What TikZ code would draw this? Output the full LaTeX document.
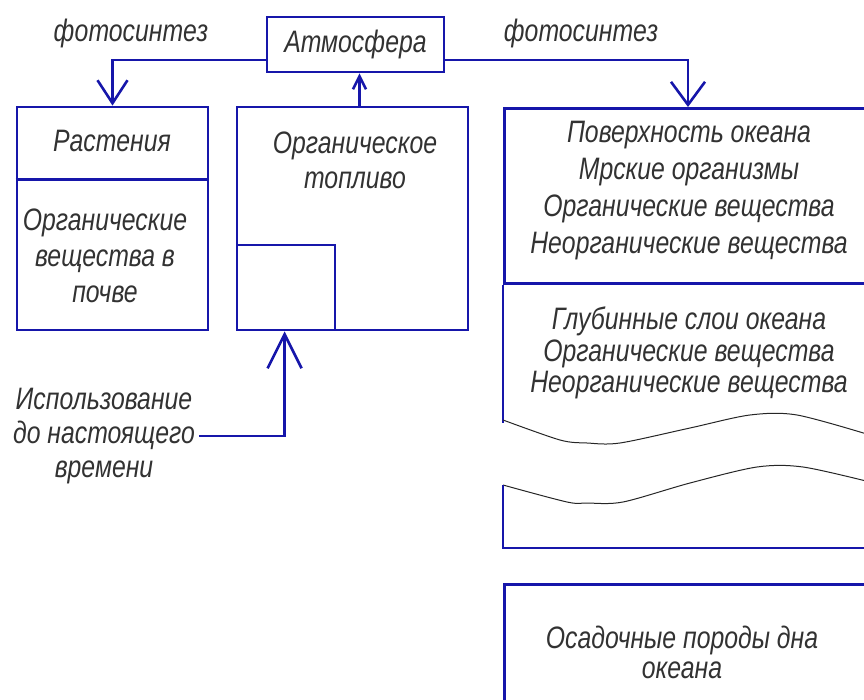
\documentclass[tikz,border=0pt]{standalone}
\usepackage{fontspec}
\setmainfont{Liberation Sans}[FakeStretch=0.8]
\usetikzlibrary{arrows.meta, positioning, calc}
\definecolor{inkblue}{RGB}{22,22,170}
\definecolor{inkgray}{RGB}{50,50,50}
\newcommand{\capfont}[1]{\fontsize{31}{#1}\selectfont\itshape}
\tikzset{
  block/.style={draw=inkblue, line width=2.8pt, inner sep=0pt},
  caption/.style={font=\capfont{35}, text=inkgray, align=center, inner sep=4pt},
  rule/.style={draw=inkblue, line width=2.8pt},
  flow/.style={rule, -{Straight Barb[length=23pt, width=30pt, line width=2.6pt]}},
  wave/.style={line width=1pt, black!85}
}

\begin{document}
\begin{tikzpicture}[x=1pt, y=-1pt]
        \useasboundingbox (0,0) rectangle (864,700);
        \clip (0,0) rectangle (864,700);

        % Atmosphere
        \node[block, caption, minimum width=177, minimum height=55] (atm) at (355.5,44.5) {Атмосфера};

        % Land
        \node[block, minimum width=191, minimum height=223] (plants) at (112.5,218.5) {};
        \draw[rule] ($(plants.north west)+(0,74)$) -- ($(plants.north east)+(0,74)$);
        \node[caption] at (112,141) {Растения};
        \node[caption, font=\capfont{36}] at (105,256) {Органические\\вещества в\\почве};

        \node[block, minimum width=231, minimum height=223] (fuel) at (352.5,218.5) {};
        \node[block, minimum width=98, minimum height=85, anchor=south west] (reserve) at (fuel.south west) {};
        \node[caption] at (355,160) {Органическое\\топливо};

        % Ocean
        \node[block, minimum width=400, minimum height=175, anchor=north west] (surface) at (503,107) {};
        \node[caption, font=\capfont{37}] at (689,191) {Поверхность океана\\Мрские организмы\\Органические вещества\\Неорганические вещества};
        \draw[rule] (surface.south west) -- ++(0,138);
        \node[caption, font=\capfont{31.5}] at (689,353) {Глубинные слои океана\\Органические вещества\\Неорганические вещества};
        \draw[wave] plot[smooth, tension=0.5] coordinates {(503,420) (560,440) (587,443) (620,443) (690,428) (750,415) (797,415) (870,435)};
        \draw[wave] plot[smooth, tension=0.5] coordinates {(503,485) (567,502) (587,503) (623,502) (690,483) (757,467) (803,467) (870,482)};
        \draw[rule] (503,485) -- (503,548) -- (880,548);

        \node[block, minimum width=400, minimum height=150, anchor=north west] (sediment) at (503,583) {};
        \node[caption, font=\capfont{30}] at (682,652) {Осадочные породы дна\\океана};

        % Labels
        \node[caption] at (131,33) {фотосинтез};
        \node[caption] at (581,33) {фотосинтез};
        \node[caption, font=\capfont{34}] (usage) at (104,436) {Использование\\до настоящего\\времени};

        % Links
        \coordinate (sink) at ($(surface.north west)+(185,0)$);
        \coordinate (vent) at ($(fuel.north)+(7,0)$);
        \coordinate (inlet) at ($(fuel.south west)+(49,0)$);
        \draw[flow] ($(atm.west)+(0,15.5)$) -| (plants.north);
        \draw[flow, -{Straight Barb[length=23pt, width=34pt, line width=2.6pt]}] ($(atm.east)+(0,15.5)$) -| (sink);
        \draw[flow, -{Straight Barb[length=13pt, width=13pt, line width=2.6pt]}] (vent) -- (vent |- atm.south);
        \draw[flow, -{Straight Barb[length=34pt, width=34pt, line width=2.6pt]}] (usage.east) -| (inlet);
    \end{tikzpicture}
\end{document}
